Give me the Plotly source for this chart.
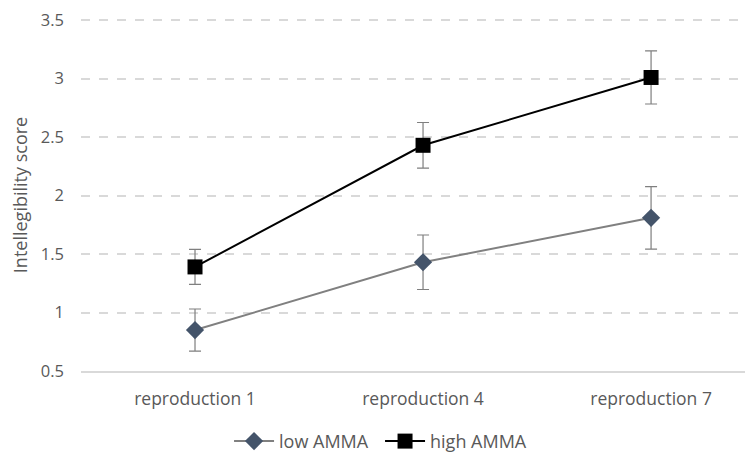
import plotly.graph_objects as go

categories = ["reproduction 1", "reproduction 4", "reproduction 7"]
low_amma = [0.85, 1.43, 1.81]
low_err = [0.18, 0.233, 0.267]
high_amma = [1.39, 2.43, 3.01]
high_err = [0.15, 0.195, 0.227]
y_ticks = [0.5, 1, 1.5, 2, 2.5, 3, 3.5]

fig = go.Figure()
fig.add_trace(go.Scatter(
    x=categories, y=low_amma, name="low AMMA", mode="lines+markers",
    line=dict(color="#808080", width=2),
    marker=dict(symbol="diamond", size=14, color="#44546A"),
    error_y=dict(type="data", array=low_err, color="#7f7f7f", thickness=1.2, width=6),
))
fig.add_trace(go.Scatter(
    x=categories, y=high_amma, name="high AMMA", mode="lines+markers",
    line=dict(color="#000000", width=2),
    marker=dict(symbol="square", size=15, color="#000000"),
    error_y=dict(type="data", array=high_err, color="#7f7f7f", thickness=1.2, width=6),
))

font = dict(family="Open Sans, Noto Sans, sans-serif", size=17, color="#595959")
fig.update_layout(
    width=745, height=452,
    margin=dict(l=73, r=0, t=11, b=89),
    paper_bgcolor="white", plot_bgcolor="white",
    font=font,
    showlegend=True,
    legend=dict(orientation="h", x=0.445, xanchor="center", y=-0.2, yanchor="middle",
                font=dict(size=18, color="#595959"), itemwidth=40, entrywidth=96),
    xaxis=dict(type="category", range=[-0.5, 2.447], showgrid=False, automargin=False,
               showline=True, linecolor="#d9d9d9", linewidth=1.5, ticks="",
               ticklabelstandoff=11,
               tickfont=dict(size=17.5, color="#595959")),
    yaxis=dict(range=[0.5, 3.51], tickvals=y_ticks, ticktext=[f"{v:g}" for v in y_ticks],
               showgrid=True, gridcolor="#d9d9d9", griddash="dash", gridwidth=1.5,
               zeroline=False, showline=False, ticks="", ticklabelstandoff=16, automargin=False,
               ticklabeloverflow="allow",
               title=dict(text="Intellegibility score", font=dict(size=18, color="#595959"), standoff=10),
               tickfont=dict(size=16.5, color="#595959")),
)
fig.write_html("out.html")
